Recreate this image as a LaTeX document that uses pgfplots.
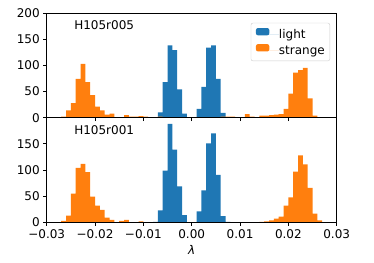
\documentclass[border=0pt]{standalone}
\usepackage{pgfplots}
\pgfplotsset{compat=1.18}
\usepackage{fontspec}
\setmainfont{DejaVu Sans}
\definecolor{mblue}{HTML}{1F77B4}
\definecolor{morange}{HTML}{FF7F0E}
\pgfplotsset{
  hbase/.style={
    scale only axis, width=290pt, height=104.7pt,
    xmin=-0.03, xmax=0.03, ymin=0, ymax=200,
    axis on top, clip=false,
    tick align=outside, major tick length=3.5pt,
    xtick={-0.03,-0.02,-0.01,0,0.01,0.02,0.03},
    xtick pos=bottom, ytick pos=left,
    scaled x ticks=false, scaled y ticks=false,
    ticklabel style={font=\fontsize{12}{14}\selectfont},
    /pgf/number format/assume math mode=true,
    axis line style={line width=0.8pt},
    every tick/.style={black, line width=0.8pt},
  },
  lightbar/.style={ybar interval, fill=mblue, draw=none},
  strangebar/.style={ybar interval, fill=morange, draw=none},
}
\begin{document}
\begin{tikzpicture}
\path[use as bounding box] (0pt,0pt) rectangle (374pt,262pt);
% top panel
\begin{axis}[hbase, at={(46.7pt,144.3pt)}, anchor=south west,
  xticklabels={},
  ytick={0,50,100,150,200},
  legend style={at={(0.977,0.906)}, anchor=north east, draw=black!20,
    rounded corners=2pt, fill=white, font=\fontsize{12}{14}\selectfont,
    inner xsep=5pt, inner ysep=5pt, row sep=4pt, column sep=0pt,
    nodes={inner sep=0pt}},
  legend cell align=left]
\addplot[lightbar, legend image code/.code={\fill[mblue] (0pt,-0.5pt) rectangle (13.3pt,6.8pt); \path (0pt,0pt) -- (23pt,0pt);}] table {
x y
-0.007 10
-0.006 68
-0.005 138
-0.004 129
-0.003 54
-0.002 8
-0.001 0
0.000 0
0.001 17
0.002 59
0.003 134
0.004 138
0.005 74
0.006 9
0.007 0
};
\addlegendentry{light}
\addplot[strangebar, legend image code/.code={\fill[morange] (0pt,-0.5pt) rectangle (13.3pt,6.8pt); \path (0pt,0pt) -- (23pt,0pt);}] table {
x y
-0.027 2
-0.026 14
-0.025 28
-0.024 74
-0.023 103
-0.022 68
-0.021 43
-0.020 21
-0.019 14
-0.018 6
-0.017 8
-0.016 1
-0.015 0
-0.014 5
-0.013 2
-0.012 2
-0.011 3
-0.010 2
-0.009 0
-0.008 0
-0.007 2
-0.006 0
0.006 0
0.006 2
0.007 2
0.008 2
0.009 0
0.010 0
0.011 7
0.012 2
0.013 0
0.014 4
0.015 4
0.016 5
0.017 6
0.018 7
0.019 17
0.020 46
0.021 86
0.022 91
0.023 95
0.024 37
0.025 4
0.026 1
0.027 0
};
\addlegendentry{strange}
\node[anchor=base west, font=\fontsize{12}{14}\selectfont] at (rel axis cs:0.083,0.846) {H105r005};
\end{axis}
% bottom panel
\begin{axis}[hbase, at={(46.7pt,39.6pt)}, anchor=south west,
  ytick={0,50,100,150},
  xticklabels={−0.03,−0.02,−0.01,0.00,0.01,0.02,0.03},
  xlabel={\textit{λ}},
  label style={font=\fontsize{12}{14}\selectfont}]
\addplot[lightbar] table {
x y
-0.008 1
-0.007 23
-0.006 99
-0.005 188
-0.004 139
-0.003 69
-0.002 14
-0.001 0
0.000 0
0.001 21
0.002 61
0.003 151
0.004 170
0.005 91
0.006 12
0.007 1
0.008 0
};
\addplot[strangebar] table {
x y
-0.027 3
-0.026 13
-0.025 55
-0.024 104
-0.023 112
-0.022 96
-0.021 49
-0.020 32
-0.019 24
-0.018 9
-0.017 5
-0.016 0
-0.015 3
-0.014 5
-0.013 0
-0.012 0
-0.011 2
-0.010 0
0.013 0
0.014 1
0.015 2
0.016 4
0.017 7
0.018 11
0.019 32
0.020 48
0.021 97
0.022 128
0.023 111
0.024 66
0.025 17
0.026 4
0.027 0
};
\node[anchor=base west, font=\fontsize{12}{14}\selectfont] at (rel axis cs:0.083,0.844) {H105r001};
\end{axis}
\end{tikzpicture}
\end{document}
